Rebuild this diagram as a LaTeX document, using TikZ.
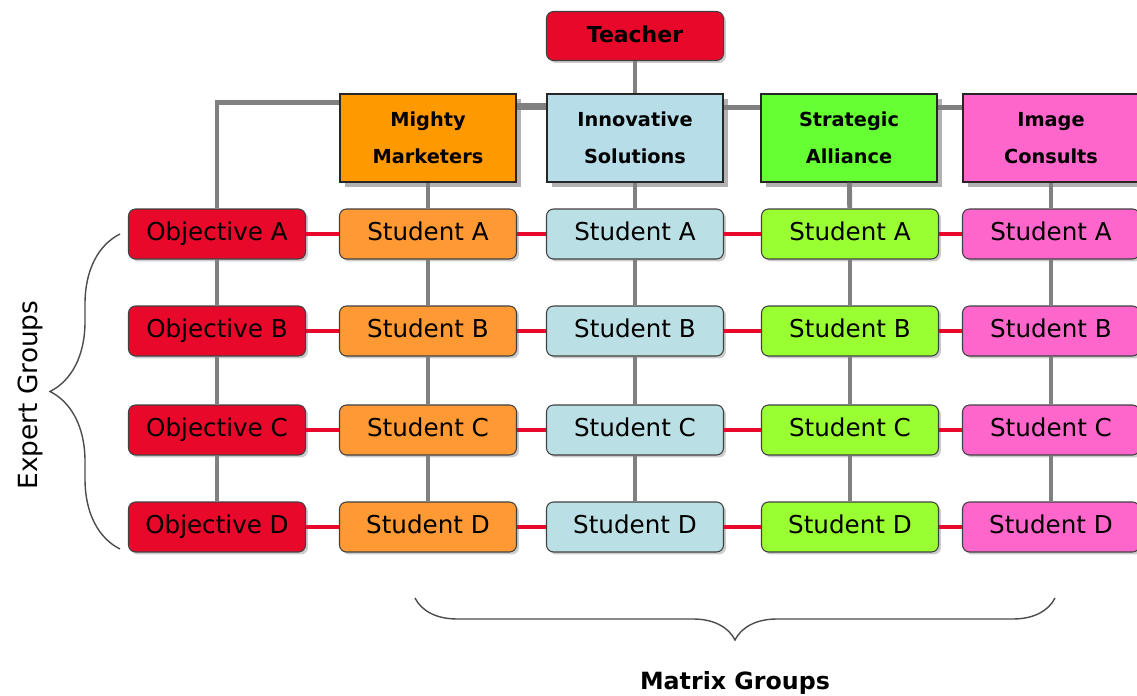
\documentclass[tikz,border=0pt]{standalone}
\usepackage{fontspec}
\setmainfont{DejaVu Sans}
\usetikzlibrary{positioning}
\usetikzlibrary{shadows}
\usetikzlibrary{decorations.pathreplacing}
\definecolor{objred}{HTML}{E8082A}
\definecolor{mmhead}{HTML}{FF9900}
\definecolor{mmstud}{HTML}{FF9933}
\definecolor{ishead}{HTML}{B7DDE8}
\definecolor{isstud}{HTML}{BADFE4}
\definecolor{sahead}{HTML}{66FF33}
\definecolor{sastud}{HTML}{99FF33}
\definecolor{ichead}{HTML}{FF66CC}
\definecolor{icstud}{HTML}{FF66CC}
\tikzset{
  box/.style={draw=black!75, rounded corners=4pt, line width=0.6pt,
    minimum width=3.54cm, minimum height=1cm,
    text height=0.73em, text depth=0pt,
    font=\fontsize{14}{16}\selectfont,
    drop shadow={shadow xshift=0.05cm, shadow yshift=-0.05cm, fill=black!20, opacity=1}},
  headbox/.style={draw=black!85, line width=0.8pt, align=center,
    minimum width=3.52cm, minimum height=1.76cm,
    font=\fontsize{11}{21}\selectfont\bfseries,
    drop shadow={shadow xshift=0.1cm, shadow yshift=-0.1cm, fill=black!30, opacity=1}},
  grayline/.style={draw=black!50, line width=2.8pt},
  redline/.style={draw=objred, line width=2.2pt},
  bracket/.style={draw=black!70, line width=0.8pt, decorate},
}

\begin{document}
\begin{tikzpicture}[x=0.02cm, y=-0.02cm]
	\useasboundingbox (0,0) rectangle (1137,696);
	% teacher and groups
	\node [box, fill=objred, minimum height=0.98cm, font=\fontsize{12.5}{14}\selectfont\bfseries] (teacher) at (635,36) {Teacher};
	\node [headbox, fill=mmhead] (hMM) at (428,138) {Mighty\\Marketers};
	\node [headbox, fill=ishead] (hIS) at (635,138) {Innovative\\Solutions};
	\node [headbox, fill=sahead] (hSA) at (849,138) {Strategic\\Alliance};
	\node [headbox, fill=ichead] (hIC) at (1051,138) {Image\\Consults};
	% objectives
	\node [box, fill=objred] (objA) at (217,234) {Objective A};
	\node [box, fill=objred] (objB) at (217,331) {Objective B};
	\node [box, fill=objred] (objC) at (217,430) {Objective C};
	\node [box, fill=objred] (objD) at (217,527) {Objective D};
	% students
	\node [box, fill=mmstud] (mmA) at (428,234) {Student A};
	\node [box, fill=mmstud] (mmB) at (428,331) {Student B};
	\node [box, fill=mmstud] (mmC) at (428,430) {Student C};
	\node [box, fill=mmstud] (mmD) at (428,527) {Student D};
	\node [box, fill=isstud] (isA) at (635,234) {Student A};
	\node [box, fill=isstud] (isB) at (635,331) {Student B};
	\node [box, fill=isstud] (isC) at (635,430) {Student C};
	\node [box, fill=isstud] (isD) at (635,527) {Student D};
	\node [box, fill=sastud] (saA) at (850,234) {Student A};
	\node [box, fill=sastud] (saB) at (850,331) {Student B};
	\node [box, fill=sastud] (saC) at (850,430) {Student C};
	\node [box, fill=sastud] (saD) at (850,527) {Student D};
	\node [box, fill=icstud] (icA) at (1051,234) {Student A};
	\node [box, fill=icstud] (icB) at (1051,331) {Student B};
	\node [box, fill=icstud] (icC) at (1051,430) {Student C};
	\node [box, fill=icstud] (icD) at (1051,527) {Student D};
	% gray links
	\draw [grayline] (teacher) -- (hIS);
	\draw [grayline] (objA.north) |- ([yshift=-0.18cm]hMM.north west);
	\draw [grayline, line width=4pt] ([yshift=-0.26cm]hMM.north east) -- ([yshift=-0.26cm]hIS.north west);
	\draw [grayline] ([yshift=-0.28cm]hIS.north east) -- ([yshift=-0.28cm]hSA.north west);
	\draw [grayline] ([yshift=-0.28cm]hSA.north east) -- ([yshift=-0.28cm]hIC.north west);
	\draw [grayline] (objA) -- (objB);
	\draw [grayline] (objB) -- (objC);
	\draw [grayline] (objC) -- (objD);
	\draw [grayline] (hMM) -- (mmA);
	\draw [grayline] (mmA) -- (mmB);
	\draw [grayline] (mmB) -- (mmC);
	\draw [grayline] (mmC) -- (mmD);
	\draw [grayline] (hIS) -- (isA);
	\draw [grayline] (isA) -- (isB);
	\draw [grayline] (isB) -- (isC);
	\draw [grayline] (isC) -- (isD);
	\draw [grayline] (hSA) -- (saA);
	\draw [grayline] (saA) -- (saB);
	\draw [grayline] (saB) -- (saC);
	\draw [grayline] (saC) -- (saD);
	\draw [grayline] (hIC) -- (icA);
	\draw [grayline] (icA) -- (icB);
	\draw [grayline] (icB) -- (icC);
	\draw [grayline] (icC) -- (icD);
	% red links
	\draw [redline] (objA) -- (mmA);
	\draw [redline] (mmA) -- (isA);
	\draw [redline] (isA) -- (saA);
	\draw [redline] (saA) -- (icA);
	\draw [redline] (objB) -- (mmB);
	\draw [redline] (mmB) -- (isB);
	\draw [redline] (isB) -- (saB);
	\draw [redline] (saB) -- (icB);
	\draw [redline] (objC) -- (mmC);
	\draw [redline] (mmC) -- (isC);
	\draw [redline] (isC) -- (saC);
	\draw [redline] (saC) -- (icC);
	\draw [redline] (objD) -- (mmD);
	\draw [redline] (mmD) -- (isD);
	\draw [redline] (isD) -- (saD);
	\draw [redline] (saD) -- (icD);
	% braces
	\coordinate (egBot) at (120,549);
	\coordinate (egTop) at (120,234);
	\draw [bracket, decoration={brace, amplitude=1.4cm}] (egBot) -- (egTop);
	\node [rotate=90, font=\fontsize{15}{17}\selectfont] (expert) at (30,395) {Expert Groups};
	\coordinate (mgRight) at (1055,598);
	\coordinate (mgLeft) at (415,598);
	\draw [bracket, decoration={brace, amplitude=0.84cm}] (mgRight) -- (mgLeft);
	\node [font=\fontsize{13.5}{16}\selectfont\bfseries] (matrix) at (735,683) {Matrix Groups};
\end{tikzpicture}
\end{document}
